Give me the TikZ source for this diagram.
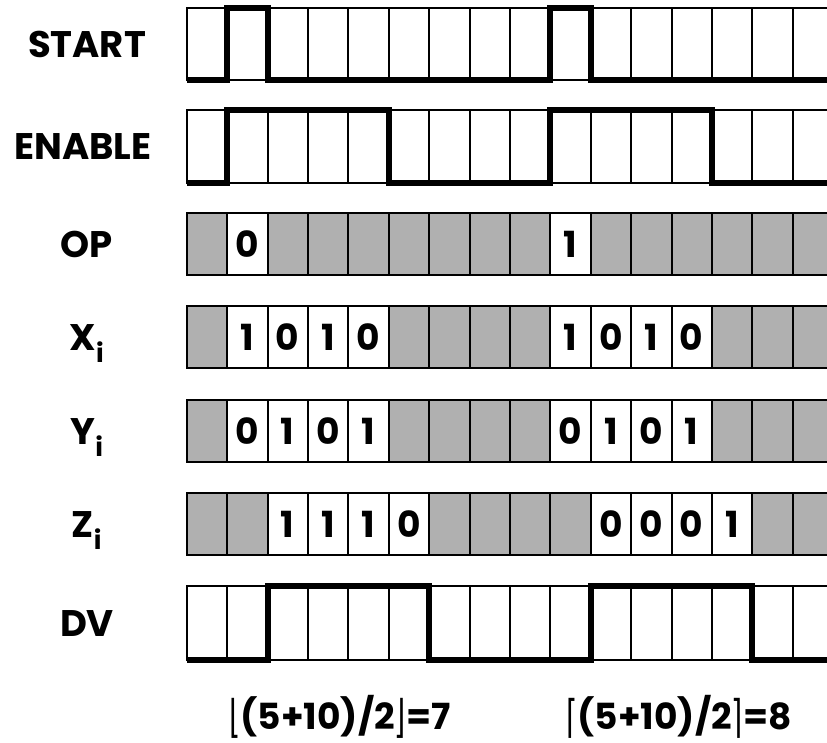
\documentclass[tikz,border=0pt]{standalone}
\usepackage{fontspec}
\usepackage{graphicx}
\setmainfont{Poppins}
\newfontfamily\symf{DejaVu Sans}[BoldFont={DejaVu Sans}]
\newcommand\cx[1]{\fpeval{186.7+40.4*(#1)}}
\def\gmark{g}
\tikzset{
  gridline/.style={draw=black, line width=2pt},
  cellline/.style={draw=black, line width=2pt},
  wave/.style={draw=black, line width=6pt, line join=miter, line cap=butt},
  lab/.style={anchor=base, font=\fontsize{37}{42}\selectfont\bfseries, inner sep=0pt},
  dig/.style={anchor=base, font=\fontsize{36}{40}\selectfont\bfseries, inner sep=0pt},
  formula/.style={anchor=base, font=\fontsize{36}{40}\selectfont\bfseries, inner sep=0pt},
}
\newcommand\gridrow[2]{%
  \foreach \i in {0,...,15}{\draw[gridline] (\cx{\i},#1) rectangle (\cx{\i+1},#2);}}
\newcommand\datarow[4]{%
  \foreach \v [count=\i from 0] in {#4}{%
    \edef\tmp{\v}%
    \ifx\tmp\gmark
      \draw[cellline, fill=cellgray] (\cx{\i},#2) rectangle (\cx{\i+1},#3);
    \else
      \draw[cellline, fill=white] (\cx{\i},#2) rectangle (\cx{\i+1},#3);
      \node[dig] (#1-\i) at (\cx{\i+0.5},{(#2+#3)/2+13}) {\v};
    \fi
  }}
\newcommand\brk[1]{\raisebox{-3pt}{\scalebox{0.8}[1.25]{\symf #1}}}
\definecolor{cellgray}{RGB}{176,176,176}
\begin{document}
\begin{tikzpicture}[x=1pt,y=-1pt]
\useasboundingbox (0,0) rectangle (827,742);
\clip (0,0) rectangle (827,742);
\fill[white] (0,0) rectangle (827,742);

% labels
\node[lab] (lstart) at (87,57) {START};
\node[lab] (lenable) at (83,159) {ENABLE};
\node[lab] (lop) at (87,257) {OP};
\node[lab] (lx) at (87,350) {X\textsubscript{i}};
\node[lab] (ly) at (87,444) {Y\textsubscript{i}};
\node[lab] (lz) at (87,537) {Z\textsubscript{i}};
\node[lab] (ldv) at (87,636) {DV};

% START
\gridrow{8}{80}
\draw[wave] (\cx{0},80) -- (\cx{1},80) -- (\cx{1},8) -- (\cx{2},8) -- (\cx{2},80)
  -- (\cx{9},80) -- (\cx{9},8) -- (\cx{10},8) -- (\cx{10},80) -- (\cx{16},80);

% ENABLE
\gridrow{109.5}{182.5}
\draw[wave] (\cx{0},182.5) -- (\cx{1},182.5) -- (\cx{1},109.5) -- (\cx{5},109.5) -- (\cx{5},182.5)
  -- (\cx{9},182.5) -- (\cx{9},109.5) -- (\cx{13},109.5) -- (\cx{13},182.5) -- (\cx{16},182.5);

% data rows
\datarow{op}{213}{275}{g,0,g,g,g,g,g,g,g,1,g,g,g,g,g,g}
\datarow{x}{306}{368}{g,1,0,1,0,g,g,g,g,1,0,1,0,g,g,g}
\datarow{y}{400}{462}{g,0,1,0,1,g,g,g,g,0,1,0,1,g,g,g}
\datarow{z}{493}{555}{g,g,1,1,1,0,g,g,g,g,0,0,0,1,g,g}

% DV
\gridrow{586}{660}
\draw[wave] (\cx{0},660) -- (\cx{2},660) -- (\cx{2},586) -- (\cx{6},586) -- (\cx{6},660)
  -- (\cx{10},660) -- (\cx{10},586) -- (\cx{14},586) -- (\cx{14},660) -- (\cx{16},660);

% formulas
\node[formula] (f1) at (340,729) {\brk{⌊}(5+10)/2\brk{⌋}=7};
\node[formula] (f2) at (679,729) {\brk{⌈}(5+10)/2\brk{⌉}=8};
\end{tikzpicture}
\end{document}
